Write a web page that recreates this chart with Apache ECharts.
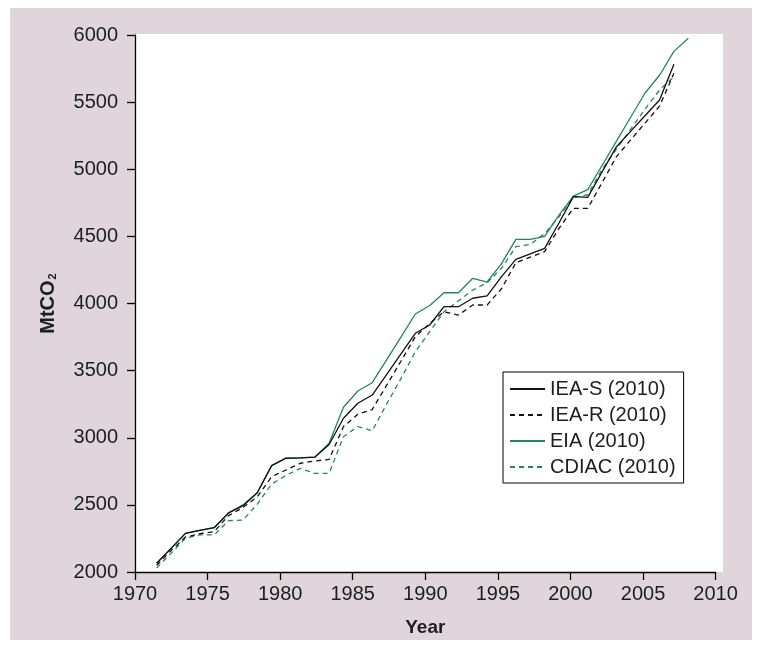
<!DOCTYPE html>
<html>
<head>
<meta charset="utf-8">
<script src="https://cdn.jsdelivr.net/npm/echarts@6/dist/echarts.min.js"></script>
<style>
  html, body { margin: 0; padding: 0; background: #ffffff; }
  #chart { width: 763px; height: 647px; }
</style>
</head>
<body>
<div id="chart"></div>
<script>
// Annual CO2 emissions (MtCO2) by data source
const yearsIEA = [1971,1972,1973,1974,1975,1976,1977,1978,1979,1980,1981,1982,1983,1984,1985,1986,1987,1988,1989,1990,1991,1992,1993,1994,1995,1996,1997,1998,1999,2000,2001,2002,2003,2004,2005,2006,2007];
const yearsEIA = [1971,1972,1973,1974,1975,1976,1977,1978,1979,1980,1981,1982,1983,1984,1985,1986,1987,1988,1989,1990,1991,1992,1993,1994,1995,1996,1997,1998,1999,2000,2001,2002,2003,2004,2005,2006,2007,2008];

const ieaS  = [2065,2176,2288,2310,2330,2440,2492,2590,2792,2847,2850,2855,2950,3145,3257,3318,3470,3625,3778,3840,3976,3976,4039,4056,4200,4329,4370,4411,4600,4796,4791,4980,5168,5284,5400,5516,5782];
const ieaR  = [2050,2160,2260,2285,2300,2420,2480,2560,2710,2760,2810,2827,2839,3083,3175,3210,3390,3570,3753,3850,3939,3914,3989,3989,4110,4304,4345,4386,4560,4709,4709,4900,5094,5220,5345,5470,5715];
const eia   = [2065,2176,2288,2310,2330,2440,2500,2590,2792,2850,2850,2855,2959,3227,3348,3410,3580,3750,3922,3985,4080,4080,4188,4160,4297,4478,4478,4500,4659,4800,4848,5028,5209,5389,5570,5700,5878,5976];
const cdiac = [2030,2139,2251,2276,2276,2382,2387,2505,2655,2720,2772,2735,2735,3008,3083,3052,3250,3440,3640,3790,3939,4020,4100,4155,4262,4423,4440,4520,4646,4790,4810,5000,5150,5300,5450,5590,5690];

const seriesNames = ['IEA-S (2010)', 'IEA-R (2010)', 'EIA (2010)', 'CDIAC (2010)'];
const yTicks = [2000, 2500, 3000, 3500, 4000, 4500, 5000, 5500, 6000];
const xTicks = [1970, 1975, 1980, 1985, 1990, 1995, 2000, 2005, 2010];

const BLACK = '#111111';
const GREEN = '#23875d';
const TEXT = '#1e1e1e';
const FONT = 'Liberation Sans, Arial, Helvetica, sans-serif';

function pairs(xs, ys) { return ys.map((v, i) => [xs[i], v]); }
const plain = v => String(v);

const chart = echarts.init(document.getElementById('chart'), null, { renderer: 'canvas' });

chart.setOption({
  backgroundColor: '#ffffff',
  animation: false,
  textStyle: { fontFamily: FONT },
  graphic: [
    { type: 'rect', z: -10, silent: true,
      shape: { x: 10, y: 8, width: 742, height: 632 },
      style: { fill: '#dfd5db' } },
    { type: 'rect', z: -9, silent: true,
      shape: { x: 135, y: 34, width: 588, height: 538 },
      style: { fill: '#ffffff' } }
  ],
  grid: { left: 135, top: 35, right: 47.4, bottom: 75, containLabel: false },
  legend: {
    orient: 'vertical',
    left: 503, top: 372,
    data: seriesNames,
    itemWidth: 35, itemHeight: 14, itemGap: 6,
    padding: [7, 8, 6, 6],
    borderColor: '#000000', borderWidth: 1, borderRadius: 0,
    backgroundColor: '#ffffff',
    itemStyle: { opacity: 0 },
    textStyle: { fontSize: 20, color: TEXT, fontFamily: FONT, lineHeight: 20 }
  },
  xAxis: [
    {
      type: 'value', min: xTicks[0], max: xTicks[xTicks.length - 1], interval: 5,
      name: 'Year', nameLocation: 'middle', nameGap: 46,
      nameTextStyle: { fontSize: 19, fontWeight: 'bold', color: TEXT },
      axisLine: { show: true, onZero: false, lineStyle: { color: '#000', width: 1.3 } },
      axisTick: { show: true, length: 8, lineStyle: { color: '#000', width: 1.3 } },
      axisLabel: { fontSize: 20, color: TEXT, margin: 12, formatter: plain },
      splitLine: { show: false }
    },
    {
      // annual values are placed on the axis at their own year positions
      type: 'value', min: 1969.49, max: 2009.9, show: false,
      axisLine: { show: false }, splitLine: { show: false }
    }
  ],
  yAxis: {
    type: 'value', min: yTicks[0], max: yTicks[yTicks.length - 1], interval: 500,
    name: '{a|MtCO}{b|2}', nameLocation: 'middle', nameGap: 77,
    nameTextStyle: {
      rich: {
        a: { fontSize: 20, fontWeight: 'bold', color: TEXT, fontFamily: FONT },
        b: { fontSize: 11, fontWeight: 'bold', color: TEXT, fontFamily: FONT, verticalAlign: 'bottom', padding: [8, 0, 0, 1] }
      }
    },
    axisLine: { show: true, lineStyle: { color: '#000', width: 1.3 } },
    axisTick: { show: true, length: 8, lineStyle: { color: '#000', width: 1.3 } },
    axisLabel: { fontSize: 20, color: TEXT, margin: 17, formatter: plain },
    splitLine: { show: false }
  },
  series: [
    { name: seriesNames[2], type: 'line', xAxisIndex: 1, data: pairs(yearsEIA, eia), symbol: 'none', z: 2,
      lineStyle: { color: GREEN, width: 1.3 }, itemStyle: { color: GREEN, opacity: 0 } },
    { name: seriesNames[3], type: 'line', xAxisIndex: 1, data: pairs(yearsIEA, cdiac), symbol: 'none', z: 3,
      lineStyle: { color: GREEN, width: 1.3, type: [5, 4] }, itemStyle: { color: GREEN, opacity: 0 } },
    { name: seriesNames[1], type: 'line', xAxisIndex: 1, data: pairs(yearsIEA, ieaR), symbol: 'none', z: 4,
      lineStyle: { color: BLACK, width: 1.3, type: [5, 4] }, itemStyle: { color: BLACK, opacity: 0 } },
    { name: seriesNames[0], type: 'line', xAxisIndex: 1, data: pairs(yearsIEA, ieaS), symbol: 'none', z: 5,
      lineStyle: { color: BLACK, width: 1.3 }, itemStyle: { color: BLACK, opacity: 0 } }
  ]
});
</script>
</body>
</html>
